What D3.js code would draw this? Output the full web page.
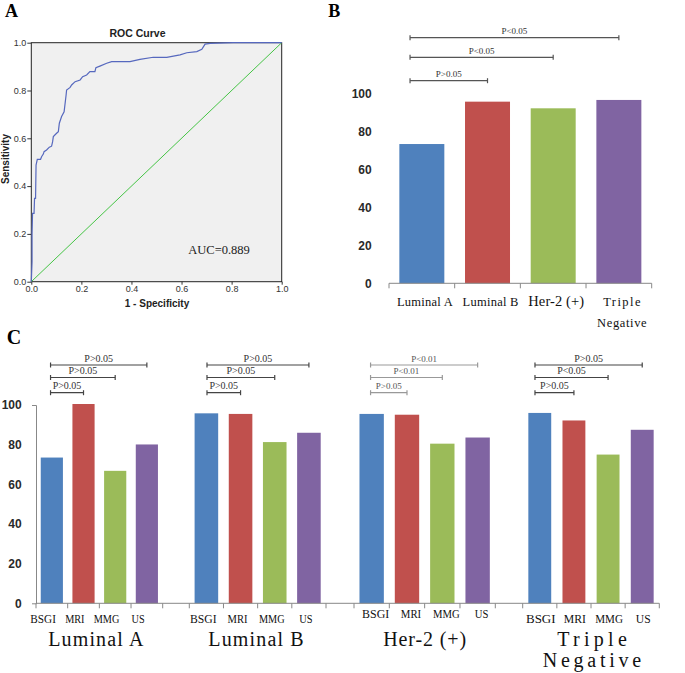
<!DOCTYPE html>
<html>
<head>
<meta charset="utf-8">
<script src="https://cdn.jsdelivr.net/npm/d3@7"></script>
<style>
  body { margin: 0; background: #fff; }
  text { font-family: "Liberation Sans", Arial, sans-serif; }
</style>
</head>
<body>
<svg id="fig" width="685" height="673"></svg>
<script>
(function() {
  "use strict";

  // ---- Panel A: ROC curve points ----
  var rocFpr = [0, 0.003, 0.003, 0.005, 0.011, 0.013, 0.017, 0.019, 0.024, 0.037, 0.041, 0.048,
    0.051, 0.061, 0.072, 0.081, 0.085, 0.088, 0.101, 0.108, 0.112, 0.121, 0.131, 0.139, 0.141,
    0.155, 0.161, 0.175, 0.195, 0.205, 0.221, 0.234, 0.254, 0.258, 0.274, 0.301, 0.321, 0.394,
    0.434, 0.487, 0.541, 0.594, 0.621, 0.661, 0.681, 0.694, 0.714, 0.807, 1];
  var rocTpr = [0, 0.084, 0.2, 0.286, 0.286, 0.349, 0.349, 0.488, 0.512, 0.512, 0.523, 0.534,
    0.544, 0.551, 0.563, 0.567, 0.585, 0.607, 0.621, 0.628, 0.663, 0.691, 0.711, 0.781, 0.802,
    0.813, 0.823, 0.837, 0.844, 0.858, 0.865, 0.879, 0.879, 0.895, 0.902, 0.914, 0.921, 0.921,
    0.93, 0.939, 0.939, 0.949, 0.958, 0.963, 0.972, 0.994, 0.997, 1, 1];
  var rocTicks = [0, 0.2, 0.4, 0.6, 0.8, 1];
  var aucLabel = "AUC=0.889";

  // ---- Panel B: detection rate by subtype ----
  var subtypes = ["Luminal A", "Luminal B", "Her-2 (+)", "Triple Negative"];
  var subtypeRates = [73.3, 95.6, 92.1, 96.5];
  var subtypePvals = ["P>0.05", "P<0.05", "P<0.05"];

  // ---- Panel C: detection rate by modality within subtype ----
  var modalities = ["BSGI", "MRI", "MMG", "US"];
  var lumARates = [73.5, 100.5, 66.8, 80.1];
  var lumBRates = [95.8, 95.5, 81.3, 86];
  var her2Rates = [95.5, 95.1, 80.5, 83.6];
  var tnRates = [96, 92.2, 75, 87.5];
  var lumAPvals = ["P>0.05", "P>0.05", "P>0.05"];
  var lumBPvals = ["P>0.05", "P>0.05", "P>0.05"];
  var her2Pvals = ["P>0.05", "P<0.01", "P<0.01"];
  var tnPvals = ["P>0.05", "P<0.05", "P>0.05"];
  var rateTicks = [0, 20, 40, 60, 80, 100];

  var barColors = ["#4f81bd", "#c0504d", "#9bbb59", "#8064a2"];
  var serifFont = "'Liberation Serif', 'Times New Roman', serif";

  var svg = d3.select("#fig");

  // evenly spaced serif text, like the SimSun latin glyphs in the original:
  // widen by spacing, or narrow the glyphs a little when the word is too wide
  function spacedText(g, str, x, y, size, charW, color) {
    var t = g.append("text")
      .attr("x", x)
      .attr("y", y)
      .attr("text-anchor", "middle")
      .style("font-family", serifFont)
      .style("font-size", size + "px")
      .attr("fill", color || "#111")
      .text(str);
    var natural = t.node().getComputedTextLength();
    var target = Math.max(str.length * charW, natural * 0.82);
    t.attr("textLength", target)
      .attr("lengthAdjust", natural > target ? "spacingAndGlyphs" : "spacing");
    return t;
  }

  function panelLetter(letter, x, y, size) {
    svg.append("text")
      .attr("x", x)
      .attr("y", y)
      .style("font-family", serifFont)
      .style("font-weight", "bold")
      .style("font-size", size + "px")
      .text(letter);
  }

  /* ------- PANEL A -------*/

  function drawRoc() {
    var x = d3.scaleLinear().domain([0, 1]).range([31.3, 281.7]);
    var y = d3.scaleLinear().domain([0, 1]).range([281.7, 42.7]);
    var g = svg.append("g").attr("class", "roc");

    g.append("rect")
      .attr("x", x(0))
      .attr("y", y(1))
      .attr("width", x(1) - x(0))
      .attr("height", y(0) - y(1))
      .attr("fill", "#f0f0f0")
      .attr("stroke", "#222")
      .attr("stroke-width", 1);

    var fmt = d3.format(".1f");
    var yAxis = g.append("g")
      .attr("transform", "translate(" + x(0) + ",0)")
      .call(d3.axisLeft(y).tickValues(rocTicks).tickFormat(fmt).tickSize(4).tickPadding(1));
    var xAxis = g.append("g")
      .attr("transform", "translate(0," + y(0) + ")")
      .call(d3.axisBottom(x).tickValues(rocTicks).tickFormat(fmt).tickSize(3).tickPadding(1));
    [xAxis, yAxis].forEach(function(a) {
      a.select(".domain").remove();
      a.selectAll("line").attr("stroke", "#333");
      a.selectAll("text")
        .style("font-size", "9px")
        .style("font-family", "'Liberation Sans', Arial, sans-serif")
        .attr("fill", "#333");
    });

    g.append("path")
      .datum([0, 1])
      .attr("fill", "none")
      .attr("stroke", "#45c445")
      .attr("stroke-width", 1)
      .attr("d", d3.line().x(function(d) { return x(d); }).y(function(d) { return y(d); }));

    g.append("path")
      .datum(rocFpr.map(function(f, i) { return [f, rocTpr[i]]; }))
      .attr("fill", "none")
      .attr("stroke", "#5668be")
      .attr("stroke-width", 1.2)
      .attr("d", d3.line().x(function(d) { return x(d[0]); }).y(function(d) { return y(d[1]); }));

    g.append("text")
      .attr("x", 137.5)
      .attr("y", 36.7)
      .attr("text-anchor", "middle")
      .style("font-weight", "bold")
      .style("font-size", "10.5px")
      .attr("fill", "#222")
      .text("ROC Curve");

    g.append("text")
      .attr("x", 157)
      .attr("y", 307.3)
      .attr("text-anchor", "middle")
      .style("font-weight", "bold")
      .style("font-size", "10px")
      .attr("fill", "#222")
      .text("1 - Specificity");

    g.append("text")
      .attr("transform", "translate(9.3,159) rotate(-90)")
      .attr("text-anchor", "middle")
      .style("font-weight", "bold")
      .style("font-size", "10px")
      .attr("fill", "#222")
      .text("Sensitivity");

    g.append("text")
      .attr("x", 188.3)
      .attr("y", 254)
      .style("font-family", serifFont)
      .style("font-size", "12.5px")
      .attr("fill", "#222")
      .text(aucLabel);
  }

  /* ------- BAR GROUPS (panels B and C) -------*/

  function drawBars(o) {
    var x = d3.scaleBand()
      .domain(o.cats)
      .range(o.xr)
      .paddingInner(o.pad)
      .paddingOuter(o.pad / 2);
    var y = d3.scaleLinear().domain([0, 100]).range(o.yr);
    var g = svg.append("g");
    var bw = x.bandwidth();

    g.selectAll("rect")
      .data(o.values)
      .enter()
      .append("rect")
      .attr("x", function(d, i) { return x(o.cats[i]); })
      .attr("y", function(d) { return y(d); })
      .attr("width", bw)
      .attr("height", function(d) { return y(0) - y(d); })
      .attr("fill", function(d, i) { return barColors[i]; });

    // tick marks at band boundaries on the baseline
    var bounds = o.cats.map(function(c) { return x(c) - x.step() * o.pad / 2; });
    bounds.push(o.xr[1]);
    g.selectAll("line.tick")
      .data(bounds)
      .enter()
      .append("line")
      .attr("class", "tick")
      .attr("x1", function(d) { return d; })
      .attr("x2", function(d) { return d; })
      .attr("y1", y(0))
      .attr("y2", y(0) + 5)
      .attr("stroke", "#888")
      .attr("stroke-width", 1);

    // category labels
    o.cats.forEach(function(c, i) {
      var lines = o.labelLines ? o.labelLines[i] : [c];
      var size = o.labSizes ? o.labSizes[i] : o.labSize;
      lines.forEach(function(s, j) {
        spacedText(g, s, x(c) + bw / 2 + o.labDx, o.labY + j * o.labLead, size, o.labW);
      });
    });

    // significance brackets: first bar against each other bar
    var x0 = x(o.cats[0]) + bw / 2 + o.brOff;
    o.pvals.forEach(function(p, k) {
      var x1 = x(o.cats[k + 1]) + bw / 2;
      var ly = o.brY[k];
      var b = g.append("g").attr("class", "bracket");
      b.append("line")
        .attr("x1", x0).attr("x2", x1)
        .attr("y1", ly).attr("y2", ly);
      b.append("line")
        .attr("x1", x0).attr("x2", x0)
        .attr("y1", ly - 2.5).attr("y2", ly + 2.5);
      b.append("line")
        .attr("x1", x1).attr("x2", x1)
        .attr("y1", ly - 2.5).attr("y2", ly + 2.5);
      b.selectAll("line")
        .attr("stroke", o.brColor)
        .attr("stroke-width", 1.2);
      b.append("text")
        .attr("x", (x0 + x1) / 2)
        .attr("y", ly - 3.5)
        .attr("text-anchor", "middle")
        .style("font-family", serifFont)
        .style("font-size", o.brSize + "px")
        .attr("fill", o.brText)
        .text(p);
    });

    return { x: x, y: y, g: g };
  }

  function rateAxis(y, xPos, padding, size, withLine) {
    var a = svg.append("g")
      .attr("transform", "translate(" + xPos + ",0)")
      .call(d3.axisLeft(y).tickValues(rateTicks).tickSize(0).tickSizeOuter(withLine ? 4 : 0).tickPadding(padding));
    if (withLine) {
      a.select(".domain").attr("stroke", "#888");
    } else {
      a.select(".domain").remove();
    }
    a.selectAll("text")
      .style("font-family", "'Liberation Sans', Arial, sans-serif")
      .style("font-weight", "bold")
      .style("font-size", size + "px")
      .attr("fill", "#2a2a2a");
  }

  drawRoc();

  // Panel B
  var pb = drawBars({
    cats: subtypes,
    values: subtypeRates,
    pvals: subtypePvals,
    xr: [389, 651.7],
    yr: [283.3, 93.3],
    pad: 0.315,
    labelLines: [["Luminal A"], ["Luminal B"], ["Her-2 (+)"], ["Triple", "Negative"]],
    labSizes: [12.5, 12.5, 14.5, 12.5],
    labDx: 3,
    labY: 306,
    labLead: 21.3,
    labW: 6.2,
    brOff: -11.8,
    brY: [80.7, 57.3, 37.7],
    brSize: 9,
    brColor: "#555",
    brText: "#333"
  });
  svg.append("line")
    .attr("x1", 389).attr("x2", 651.7)
    .attr("y1", pb.y(0)).attr("y2", pb.y(0))
    .attr("stroke", "#888");
  rateAxis(pb.y, 389, 17.3, 12, false);

  // Panel C
  var groups = [
    { title: ["Luminal A"], values: lumARates, pvals: lumAPvals, xr: [36, 162.7], pad: 0.3,
      labDx: -8.7, labY: 623, labSize: 12.5, labW: 6.4, titleDx: -3.5, titleW: [10.6],
      brOff: -1.3, brSize: 10, brColor: "#444", brText: "#333" },
    { title: ["Luminal B"], values: lumBRates, pvals: lumBPvals, xr: [189.3, 326], pad: 0.31,
      labDx: -3, labY: 623, labSize: 12.5, labW: 6.65, titleDx: -1.7, titleW: [10.6],
      brOff: 0.6, brSize: 10, brColor: "#444", brText: "#333" },
    { title: ["Her-2 (+)"], values: her2Rates, pvals: her2Pvals, xr: [354, 495.3], pad: 0.31,
      labDx: 4, labY: 618.3, labSize: 13, labW: 6.8, titleDx: 0, titleW: [9.2],
      brOff: -1.1, brSize: 9, brColor: "#999", brText: "#555" },
    { title: ["Triple", "Negative"], values: tnRates, pvals: tnPvals, xr: [522.7, 659.3], pad: 0.33,
      labDx: 1, labY: 623.3, labSize: 13.5, labW: 7.4, titleDx: 1, titleW: [11.6, 12.3],
      brOff: -4.8, brSize: 10, brColor: "#444", brText: "#333" }
  ];

  var pc;
  groups.forEach(function(gr) {
    pc = drawBars({
      cats: modalities,
      values: gr.values,
      pvals: gr.pvals,
      xr: gr.xr,
      yr: [603.3, 405],
      pad: gr.pad,
      labDx: gr.labDx,
      labY: gr.labY,
      labLead: 0,
      labSize: gr.labSize,
      labW: gr.labW,
      brOff: gr.brOff,
      brY: [392.7, 377.5, 365],
      brSize: gr.brSize,
      brColor: gr.brColor,
      brText: gr.brText
    });
    var cx = (gr.xr[0] + gr.xr[1]) / 2 + gr.titleDx;
    gr.title.forEach(function(s, j) {
      spacedText(svg, s, cx, 646 + j * 20.7, 20, gr.titleW[j]);
    });
  });

  svg.append("line")
    .attr("x1", 36).attr("x2", 659.3)
    .attr("y1", pc.y(0)).attr("y2", pc.y(0))
    .attr("stroke", "#888");
  rateAxis(pc.y, 36, 14.3, 12, true);

  panelLetter("A", 5, 17.3, 18);
  panelLetter("B", 328.3, 17.3, 18);
  panelLetter("C", 6.7, 344, 20);
})();
</script>
</body>
</html>
